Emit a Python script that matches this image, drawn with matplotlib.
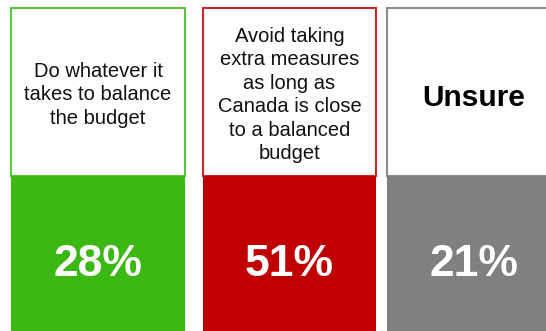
import matplotlib.pyplot as plt

labels = ["Do whatever it\ntakes to balance\nthe budget",
          "Avoid taking\nextra measures\nas long as\nCanada is close\nto a balanced\nbudget",
          "Unsure"]
values = [28, 51, 21]
fills = ["#3cb815", "#c00000", "#808080"]
borders = ["#5cc43c", "#c8262a", "#8c8c8c"]

# layout in pixel units
lefts = [11, 203, 387]
widths = [174, 173, 174]
top, mid, bottom = 8, 176, 331

plt.rcParams['font.family'] = ['Liberation Sans', 'DejaVu Sans']
fig = plt.figure(figsize=(5.46, 3.31), dpi=100)
ax = fig.add_axes([0, 0, 1, 1])
ax.set_xlim(0, 546)
ax.set_ylim(331, 0)
ax.axis('off')

# white label boxes
ax.bar(lefts, mid - top, width=widths, bottom=top, align='edge',
       color='white', edgecolor=borders, linewidth=1.5)
# coloured value boxes
ax.bar(lefts, bottom + 5 - mid, width=widths, bottom=mid, align='edge',
       color=fills, linewidth=0)

for i, (lab, v) in enumerate(zip(labels, values)):
    cx = lefts[i] + widths[i] / 2
    if lab == "Unsure":
        ax.text(cx, 98, lab, ha='center', va='center', fontsize=21.5,
                fontweight='bold', color='black')
    else:
        ax.text(cx, 95, lab, ha='center', va='center', fontsize=14.5,
                color='#111111', linespacing=1.3)
    ax.text(cx, 264, f"{v}%", ha='center', va='center', fontsize=32,
            fontweight='bold', color='white')

fig.savefig("out.png", dpi=100)
